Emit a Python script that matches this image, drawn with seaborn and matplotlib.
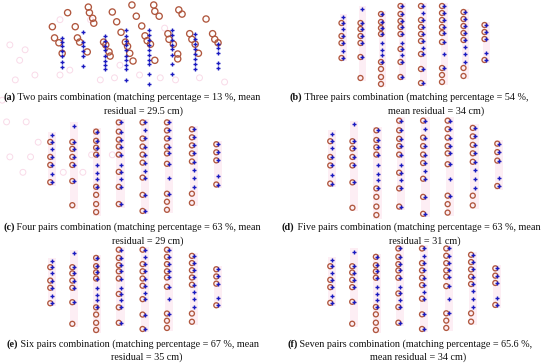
import warnings
warnings.filterwarnings("ignore")
import matplotlib
matplotlib.use("Agg")
import matplotlib.pyplot as plt
import pandas as pd
import seaborn as sns

# ---------------- data ----------------
# column positions of the reference (true) grid, shared by all panels
col_x = [13, 32, 52, 72, 93, 114, 135, 156]
true_y = [
    [73, 67, 61, 54, 47, 39, 32],
    [81, 67, 61, 54, 47, 33],
    [76, 68, 62, 56, 47, 40, 35, 28],
    [84, 76, 69, 63, 56, 47, 41, 35, 28, 13],
    [84, 77, 70, 63, 56, 49, 42, 36, 21, 7],
    [84, 77, 70, 63, 57, 48, 36, 22],
    [78, 71, 64, 57, 50, 43, 36, 28],
    [65, 58, 51, 37, 30],
]
# estimated positions (red circles) for panels b-f
est_col_x = [11.5, 30.5, 51, 70.5, 91, 112, 133.5, 154.5]
est_y = [
    [67, 54, 47, 32],
    [67, 61, 54, 47, 33, 12],
    [76, 68, 62, 56, 28, 21, 13, 6],
    [84, 76, 69, 63, 56, 41, 28, 13],
    [84, 70, 63, 56, 49, 36, 21, 7],
    [84, 77, 70, 63, 57, 48, 22, 15, 8],
    [78, 71, 64, 57, 50, 22, 14],
    [65, 58, 51, 30],
]
# estimated positions for panel (a) (two pairs)
est_a_x = [18, 4, 6, 10, 13, 37, 38, 41, 42, 25, 27, 29, 36, 59, 63, 67, 51, 53,
           56, 57, 71, 73, 75, 78, 77, 81, 86, 89, 91, 98, 97, 98, 102, 110, 111,
           115, 119, 119, 120, 123, 130, 132, 135, 138, 145, 151, 153, 156, 94]
est_a_y = [109, 89, 73, 66, 51, 117, 109, 101, 94, 89, 73, 67, 53, 110, 96, 81,
           67, 63, 53, 47, 67, 61, 51, 40, 120, 104, 90, 76, 69, 41, 120, 111,
           104, 79, 71, 64, 50, 43, 113, 107, 79, 71, 64, 51, 100, 79, 71, 66, 64]
# faint ghost circles in panel (a)
ghost_x = [-35, -26, -21, -30, -12, 11, 20, 48, 61, 66, 84, 103, 117, 139, 162,
           39, 107, 11, -38, -20, -9, -35, -16, -23, 14, 32, 40, 59, -42]
ghost_y = [63, 41, 56, 13, 20, 20, 27, 13, 16, 34, 20, 16, 13, 16, 10,
           99, 87, 99, -47, -47, -76, -97, -97, -119, -119, -119, -94, -94, -16]

panels = ["a", "b", "c", "d", "e", "f"]
labels = ["(a)", "(b)", "(c)", "(d)", "(e)", "(f)"]
line1 = [
    " Two pairs combination (matching percentage = 13 %, mean",
    " Three pairs combination (matching percentage = 54 %,",
    " Four pairs combination (matching percentage = 63 %, mean",
    " Five pairs combination (matching percentage = 63 %, mean",
    " Six pairs combination (matching percentage = 67 %, mean",
    " Seven pairs combination (matching percentage = 65.6 %,",
]
line2 = [
    "residual = 29.5 cm)",
    "mean residual = 34 cm)",
    "residual = 29 cm)",
    "residual = 31 cm)",
    "residual = 35 cm)",
    "mean residual = 34 cm)",
]

# ---------------- layout (pixels) ----------------
W, H = 550, 363
# axes boxes: left, top, right, bottom (px) and data limits
boxes = {
    "a": (48, 0.1, 244.2, 96, (0, 180), (-10, 127)),
    "b": (330, 0, 500, 90, (0, 170), (0, 90)),
    "c": (36.9, 115.5, 234.3, 219, (0, 170), (0, 90)),
    "d": (316.8, 113.4, 515.4, 222.3, (0, 170), (0, 90)),
    "e": (36.9, 243.5, 234.3, 336.2, (0, 170), (0, 90)),
    "f": (317, 242.2, 513.2, 336.3, (0, 170), (0, 90)),
}
cap_pos = {  # line1 left x, line1 y, line2 centre x, line2 y
    "a": (3, 97, 144, 111),
    "b": (289, 97, 436, 111),
    "c": (3, 227, 148, 241),
    "d": (282, 227, 425, 241),
    "e": (6, 344, 147, 357),
    "f": (287, 344, 418, 357),
}

BLUE = "#1a1ac0"
RED = "#b0573e"
PINK = "#f9dae8"
BAND = "#fdeef4"
font = dict(family="Liberation Serif", fontsize=7.3, color="#111111")

sns.set_theme(style="white")
fig = plt.figure(figsize=(W / 100, H / 100), dpi=100)

true_df = pd.DataFrame({
    "x": [cx for cx, ys in zip(col_x, true_y) for _ in ys],
    "y": [y for ys in true_y for y in ys],
})
est_df = pd.DataFrame({
    "x": [cx for cx, ys in zip(est_col_x, est_y) for _ in ys],
    "y": [y for ys in est_y for y in ys],
})
est_a_df = pd.DataFrame({"x": est_a_x, "y": est_a_y})
ghost_df = pd.DataFrame({"x": ghost_x, "y": ghost_y})

axes = {}
for p in panels:
    l, t, r, b, xl, yl = boxes[p]
    ax = fig.add_axes([l / W, 1 - b / H, (r - l) / W, (b - t) / H])
    ax.set_xlim(*xl)
    ax.set_ylim(*yl)
    ax.set_axis_off()
    axes[p] = ax

    if p == "a":
        sns.scatterplot(data=ghost_df, x="x", y="y", ax=ax, marker="o", s=18,
                        facecolor="none", edgecolor=PINK, linewidth=0.7,
                        clip_on=False, zorder=1, legend=False)
        sns.scatterplot(data=est_a_df, x="x", y="y", ax=ax, marker="o", s=20,
                        facecolor="none", edgecolor=RED, linewidth=0.95,
                        clip_on=False, zorder=2, legend=False)
        sns.scatterplot(data=true_df, x="x", y="y", ax=ax, marker="+", s=12,
                        color=BLUE, linewidth=1.0, clip_on=False, zorder=3,
                        legend=False)
    else:
        # faint bands behind each column, spanning its points
        lo = [min(ty + ey) - 3 for ty, ey in zip(true_y, est_y)]
        hi = [max(ty + ey) + 3 for ty, ey in zip(true_y, est_y)]
        ax.bar(col_x, [h - l_ for h, l_ in zip(hi, lo)], bottom=lo, width=7,
               color=BAND, zorder=0, linewidth=0)
        sns.scatterplot(data=est_df, x="x", y="y", ax=ax, marker="o", s=13,
                        facecolor="none", edgecolor=RED, linewidth=0.95,
                        clip_on=False, zorder=2, legend=False)
        sns.scatterplot(data=true_df, x="x", y="y", ax=ax, marker="+", s=12,
                        color=BLUE, linewidth=1.0, clip_on=False, zorder=3,
                        legend=False)

# captions
for p, lab, t1, t2 in zip(panels, labels, line1, line2):
    x1, y1, x2, y2 = cap_pos[p]
    tb = fig.text(x1 / W, 1 - y1 / H, lab, ha="left", va="center",
                  fontweight="bold", **font)
    axes[p].annotate(t1, xy=(1, 0.5), xycoords=tb, ha="left", va="center",
                     annotation_clip=False, **font)
    fig.text(x2 / W, 1 - y2 / H, t2, ha="center", va="center", **font)

fig.savefig("out.png", dpi=100)
